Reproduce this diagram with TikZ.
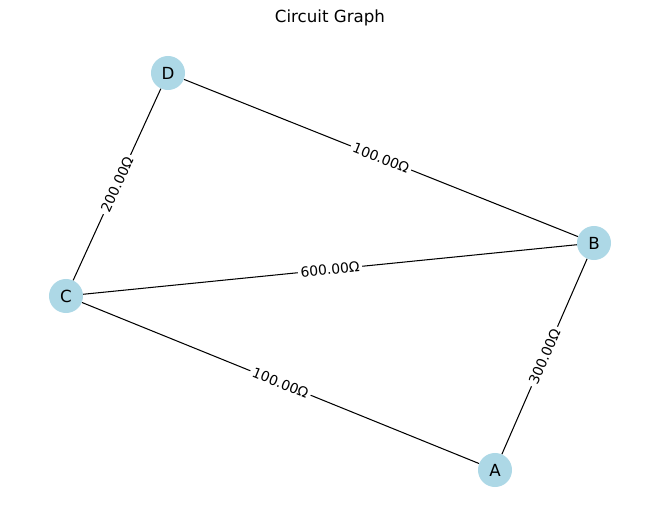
\documentclass[tikz,border=0pt]{standalone}
\usepackage{fontspec}
\setmainfont{DejaVu Sans}
\usepackage{xcolor}
\usetikzlibrary{positioning}
\definecolor{nodeblue}{HTML}{ADD8E6}

\begin{document}
\begin{tikzpicture}[
    x=0.72pt, y=-0.72pt,
    vertex/.style={circle, fill=nodeblue, minimum size=24.5pt, inner sep=0pt, font=\fontsize{12}{14}\selectfont},
    wire/.style={draw=black, line width=0.75pt},
    ohm/.style={midway, sloped, fill=white, inner sep=2pt, font=\fontsize{10}{12}\selectfont}
]
\useasboundingbox (0,0) rectangle (660,522);

% Title
\node[font=\fontsize{12}{14}\selectfont] (title) at (330,18) {Circuit Graph};

% Vertices
\node[vertex] (D) at (168,73) {D};
\node[vertex] (B) at (594,243) {B};
\node[vertex] (C) at (66,296) {C};
\node[vertex] (A) at (495,470) {A};

% Resistors
\draw[wire] (D) -- node[ohm] {100.00Ω} (B);
\draw[wire] (D) -- node[ohm] {200.00Ω} (C);
\draw[wire] (C) -- node[ohm] {600.00Ω} (B);
\draw[wire] (C) -- node[ohm] {100.00Ω} (A);
\draw[wire] (A) -- node[ohm] {300.00Ω} (B);

\end{tikzpicture}
\end{document}
